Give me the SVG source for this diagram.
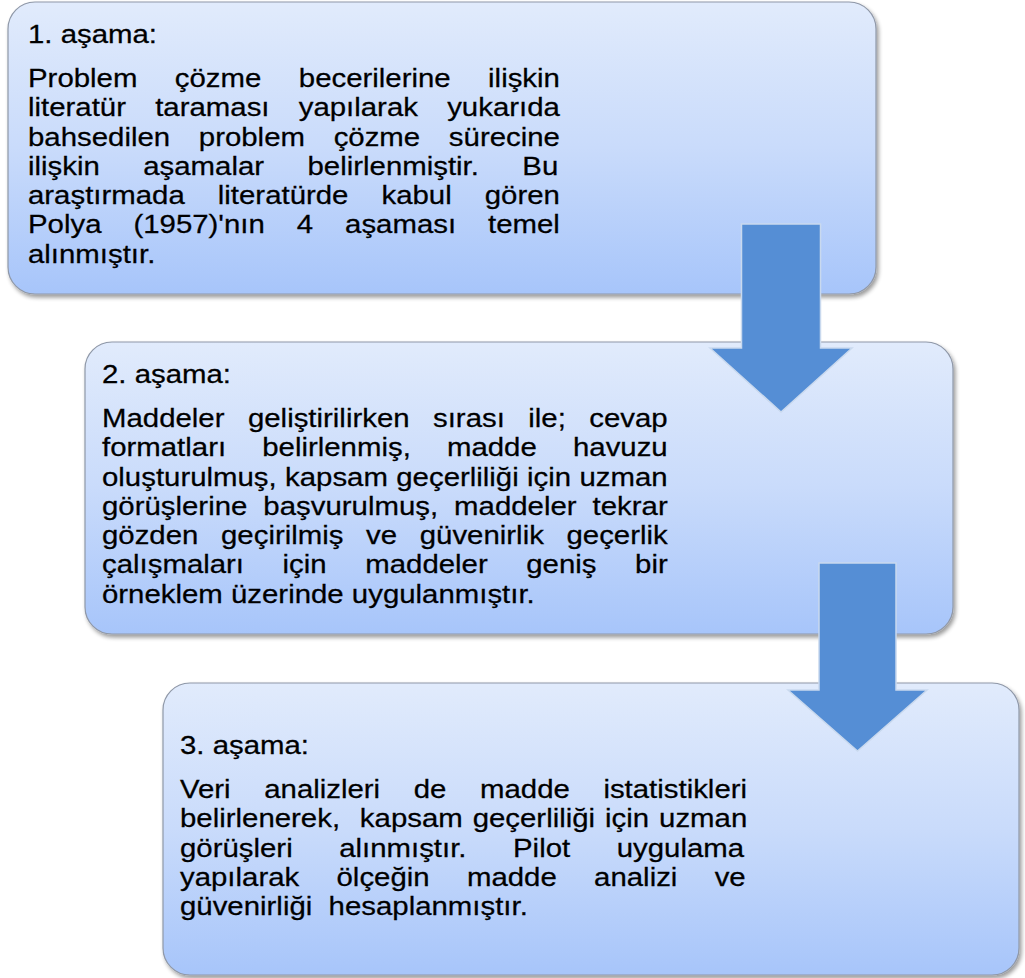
<svg xmlns="http://www.w3.org/2000/svg" width="1025" height="978" viewBox="0 0 1025 978">
  <defs>
    <style>
      .box { fill: url(#boxFill); stroke: #8f98a8; stroke-width: 1.2; filter: url(#shadow); }
      .arrow { fill: #558ed5; stroke: #c9d9ee; stroke-width: 1.5; stroke-linejoin: miter; }
      .t { font-family: "Liberation Sans", Arial, sans-serif; font-size: 25.5px; fill: #000; stroke: #000; stroke-width: 0.25px; }
    </style>
    <linearGradient id="boxFill" x1="0" y1="0" x2="0" y2="1">
      <stop offset="0" stop-color="#e1ebfc"/>
      <stop offset="0.5" stop-color="#c9dbfb"/>
      <stop offset="1" stop-color="#a7c5fa"/>
    </linearGradient>
    <filter id="shadow" x="-3%" y="-5%" width="106%" height="115%">
      <feGaussianBlur in="SourceAlpha" stdDeviation="2"/>
      <feOffset dx="1.5" dy="3" result="off"/>
      <feComponentTransfer>
        <feFuncA type="linear" slope="0.4"/>
      </feComponentTransfer>
      <feMerge>
        <feMergeNode/>
        <feMergeNode in="SourceGraphic"/>
      </feMerge>
    </filter>
  </defs>

  <!-- Stage 1 -->
  <g id="stage1">
    <rect class="box" x="8" y="2" width="868" height="292" rx="27" ry="27"/>
    <g transform="translate(28 0) scale(1.153 1)">
      <text class="t" x="0" y="43">1. aşama:</text>
      <text class="t" x="0" y="87" style="word-spacing:25.38px">Problem çözme becerilerine ilişkin</text>
      <text class="t" x="0" y="116.3" style="word-spacing:18.27px">literatür taraması yapılarak yukarıda</text>
      <text class="t" x="0" y="145.6" style="word-spacing:17.8px">bahsedilen problem çözme sürecine</text>
      <text class="t" x="0" y="174.9" style="word-spacing:30.58px">ilişkin aşamalar belirlenmiştir. Bu</text>
      <text class="t" x="0" y="204.2" style="word-spacing:21.57px">araştırmada literatürde kabul gören</text>
      <text class="t" x="0" y="233.5" style="word-spacing:20.63px">Polya (1957)'nın 4 aşaması temel</text>
      <text class="t" x="0" y="262.8">alınmıştır.</text>
    </g>
  </g>

  <!-- Stage 2 -->
  <g id="stage2">
    <rect class="box" x="85" y="342" width="868" height="292" rx="27" ry="27"/>
    <g transform="translate(102 0) scale(1.153 1)">
      <text class="t" x="0" y="383">2. aşama:</text>
      <text class="t" x="0" y="427" style="word-spacing:13.25px">Maddeler geliştirilirken sırası ile; cevap</text>
      <text class="t" x="0" y="456.3" style="word-spacing:24.28px">formatları belirlenmiş, madde havuzu</text>
      <text class="t" x="0" y="485.6" style="word-spacing:0.15px">oluşturulmuş, kapsam geçerliliği için uzman</text>
      <text class="t" x="0" y="514.9" style="word-spacing:6.8px">görüşlerine başvurulmuş, maddeler tekrar</text>
      <text class="t" x="0" y="544.2" style="word-spacing:12.55px">gözden geçirilmiş ve güvenirlik geçerlik</text>
      <text class="t" x="0" y="573.5" style="word-spacing:26.36px">çalışmaları için maddeler geniş bir</text>
      <text class="t" x="0" y="602.8">örneklem üzerinde uygulanmıştır.</text>
    </g>
  </g>

  <!-- Stage 3 -->
  <g id="stage3">
    <rect class="box" x="163" y="683" width="856" height="292" rx="27" ry="27"/>
    <g transform="translate(180 0) scale(1.153 1)">
      <text class="t" x="0" y="754">3. aşama:</text>
      <text class="t" x="0" y="798" style="word-spacing:22.04px">Veri analizleri de madde istatistikleri</text>
      <text class="t" x="0" y="827.3" style="word-spacing:1.52px" xml:space="preserve">belirlenerek,  kapsam geçerliliği için uzman</text>
      <text class="t" x="0" y="856.6" style="word-spacing:33.25px">görüşleri alınmıştır. Pilot uygulama</text>
      <text class="t" x="0" y="885.9" style="word-spacing:25.28px">yapılarak ölçeğin madde analizi ve</text>
      <text class="t" x="0" y="915.2" xml:space="preserve">güvenirliği  hesaplanmıştır.</text>
    </g>
  </g>

  <!-- Down arrows linking the stages -->
  <g id="connectors">
    <polygon class="arrow" points="741.5,224 820.5,224 820.5,348 852,348 781,412 710,348 741.5,348"/>
    <polygon class="arrow" points="819,563 896,563 896,690 927,690 857.5,751 788,690 819,690"/>
  </g>
</svg>
